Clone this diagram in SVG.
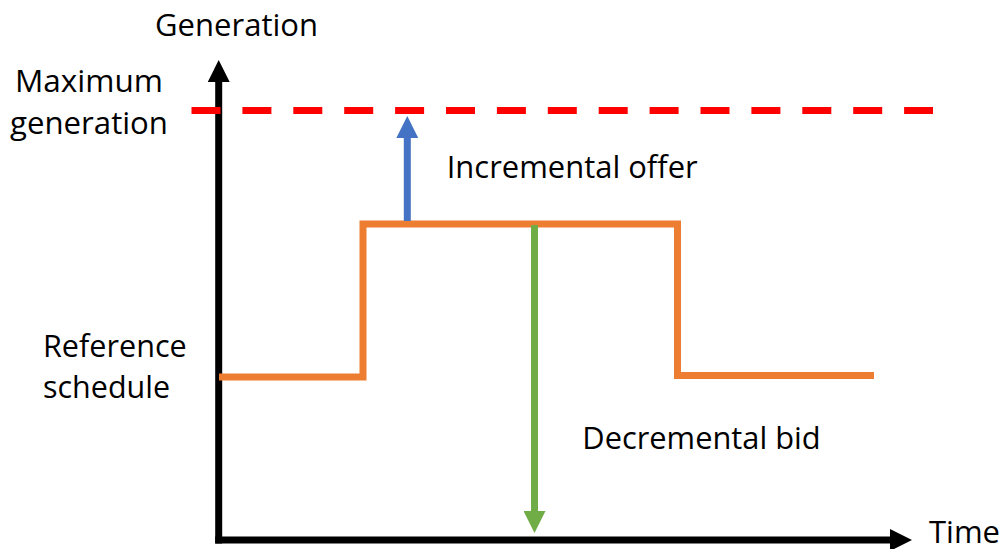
<svg xmlns="http://www.w3.org/2000/svg" width="1003" height="549" viewBox="0 0 1003 549">
<style>
text{font-family:"Open Sans","Liberation Sans",sans-serif;font-size:31px;fill:#000}
.ax{stroke:#000;stroke-width:7;fill:none}
.sched{stroke:#ED7D31;stroke-width:7;fill:none;stroke-linejoin:miter}
</style>
<defs>
<marker id="hk" viewBox="0 0 22 22" refX="0" refY="11" markerWidth="22" markerHeight="22" markerUnits="userSpaceOnUse" orient="auto"><path d="M0,0 L22,11 L0,22 Z" fill="#000"/></marker>
<marker id="hb" viewBox="0 0 22 22" refX="0" refY="11" markerWidth="22" markerHeight="22" markerUnits="userSpaceOnUse" orient="auto"><path d="M0,0 L22,11 L0,22 Z" fill="#4472C4"/></marker>
<marker id="hg" viewBox="0 0 22 22" refX="0" refY="11" markerWidth="22" markerHeight="22" markerUnits="userSpaceOnUse" orient="auto"><path d="M0,0 L22,11 L0,22 Z" fill="#70AD47"/></marker>
</defs>
<g id="axes">
<line class="ax" x1="218.7" y1="543.5" x2="218.7" y2="82" marker-end="url(#hk)"/>
<line class="ax" x1="215.2" y1="540" x2="890" y2="540" marker-end="url(#hk)"/>
</g>
<g id="max-line">
<line x1="191.5" y1="110.5" x2="933" y2="110.5" stroke="#FF0000" stroke-width="7" stroke-dasharray="29 21.9"/>
</g>
<g id="schedule">
<polyline class="sched" points="219,377 363,377 363,224 677.5,224 677.5,375.5 874,375.5"/>
</g>
<g id="connectors">
<line x1="407.3" y1="221" x2="407.3" y2="138" stroke="#4472C4" stroke-width="7" marker-end="url(#hb)"/>
<line x1="534.5" y1="225" x2="534.5" y2="511" stroke="#70AD47" stroke-width="7" marker-end="url(#hg)"/>
</g>
<g id="labels">
<text x="155" y="36" textLength="163" lengthAdjust="spacingAndGlyphs">Generation</text>
<text x="15" y="92" textLength="148" lengthAdjust="spacingAndGlyphs">Maximum</text>
<text x="10" y="134" textLength="158" lengthAdjust="spacingAndGlyphs">generation</text>
<text x="446.7" y="177.7" textLength="251" lengthAdjust="spacingAndGlyphs">Incremental offer</text>
<text x="43" y="356.5" textLength="143.7" lengthAdjust="spacingAndGlyphs">Reference</text>
<text x="43" y="398" textLength="127" lengthAdjust="spacingAndGlyphs">schedule</text>
<text x="582.3" y="449.3" textLength="238.4" lengthAdjust="spacingAndGlyphs">Decremental bid</text>
<text x="929" y="543" textLength="71" lengthAdjust="spacingAndGlyphs">Time</text>
</g>
</svg>
